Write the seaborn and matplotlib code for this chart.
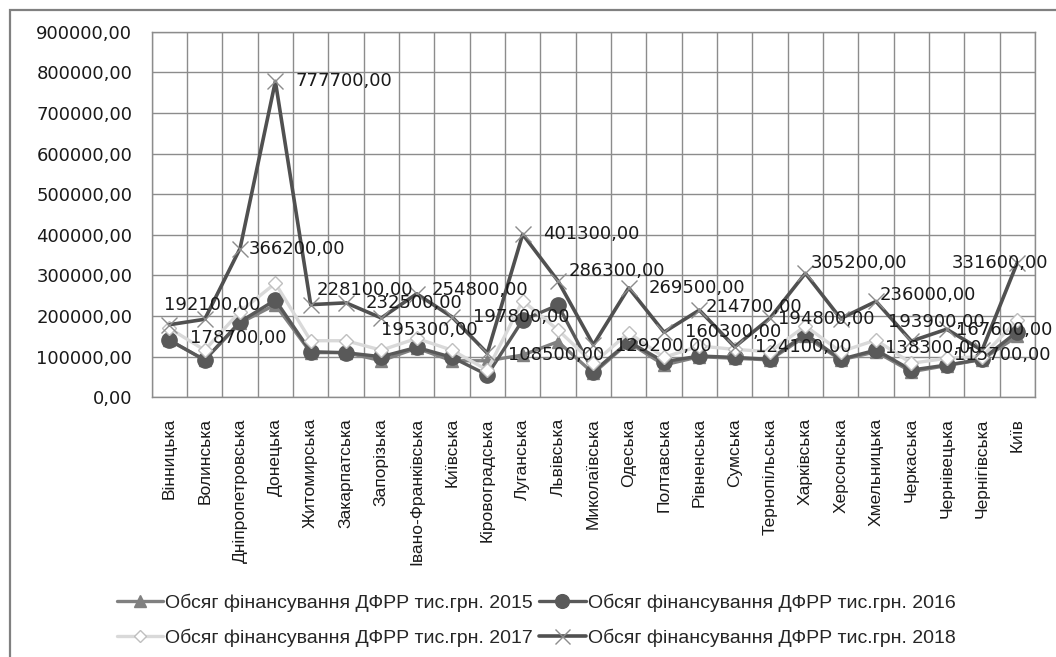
import matplotlib
matplotlib.use("Agg")
import matplotlib.pyplot as plt
from matplotlib.patches import Rectangle
from matplotlib.lines import Line2D
import numpy as np
import pandas as pd
import seaborn as sns

regions = ["Вінницька", "Волинська", "Дніпропетровська", "Донецька", "Житомирська",
           "Закарпатська", "Запорізька", "Івано-Франківська", "Київська", "Кіровоградська",
           "Луганська", "Львівська", "Миколаївська", "Одеська", "Полтавська", "Рівненська",
           "Сумська", "Тернопільська", "Харківська", "Херсонська", "Хмельницька", "Черкаська",
           "Чернівецька", "Чернігівська", "Київ"]

v2015 = [140000, 92000, 183000, 228000, 110000, 110000, 90000, 121000, 90000, 90000,
         104000, 137000, 59000, 135000, 79500, 100000, 96000, 92000, 150000, 92000,
         112000, 63000, 78000, 93000, 150000]
v2016 = [141000, 91800, 186000, 239500, 112300, 109800, 100000, 123000, 98400, 55000,
         190000, 227000, 63000, 137000, 87600, 101700, 98400, 93500, 155800, 93500,
         116400, 67200, 79500, 93500, 161500]
v2017 = [170000, 116000, 211000, 280600, 139300, 139300, 116000, 145000, 116000, 67000,
         237800, 165700, 83700, 159000, 98400, 126300, 118000, 112300, 175500, 112300,
         141000, 83700, 96000, 100000, 190000]
v2018 = [178700, 192100, 366200, 777700, 228100, 232500, 195300, 254800, 197800, 108500,
         401300, 286300, 129200, 269500, 160300, 214700, 124100, 194800, 305200, 193900,
         236000, 138300, 167600, 115700, 331600]

series_names = ["Обсяг фінансування ДФРР тис.грн. 2015",
                "Обсяг фінансування ДФРР тис.грн. 2016",
                "Обсяг фінансування ДФРР тис.грн. 2017",
                "Обсяг фінансування ДФРР тис.грн. 2018"]

# label placement (pixels: dx to left edge, dy downward) mimicking the original
label_dx = [21, -41, 9, 20, 6, 20, 0, 15, 21, 21, 20, 11, 22, 20, 21, 6, 20, 8, 5, 47, 4, -26, 9, -28, -66]
label_dy = [13, -14, 0, 0, -15, 0, 12, -4, 0, 2, 0, -10, 1, 0, 0, -3, 0, 1, -10, 3, -6, 7, 1, 5, 0]

sns.set_style("white")
plt.rcParams["font.family"] = ["DejaVu Sans"]

W, H = 1056, 657
fig = plt.figure(figsize=(W / 100, H / 100), dpi=100)
left, right, top, bottom = 151.7, 1035.0, 31.7, 397.3
ax = fig.add_axes([left / W, 1 - bottom / H, (right - left) / W, (bottom - top) / H])

x = np.arange(len(regions))
styles = [
    dict(color="#808080", marker="^", markersize=9, markerfacecolor="#808080",
         markeredgecolor="#808080", lw=2.4),
    dict(color="#595959", marker="o", markersize=11, markerfacecolor="#595959",
         markeredgecolor="#595959", lw=2.4),
    dict(color="#d9d9d9", marker="D", markersize=7, markerfacecolor="white",
         markeredgecolor="#bfbfbf", markeredgewidth=1.0, lw=2.4),
    dict(color="#505050", marker="x", markersize=12, markeredgecolor="#8c8c8c",
         markeredgewidth=1.0, lw=2.6),
]
handles = []
for vals, name, st in zip([v2015, v2016, v2017, v2018], series_names, styles):
    df = pd.DataFrame({"x": x, "y": vals})
    sns.lineplot(data=df, x="x", y="y", ax=ax, color=st["color"], linewidth=st["lw"],
                 marker=st["marker"], markersize=st["markersize"],
                 markerfacecolor=st.get("markerfacecolor", "none"),
                 markeredgecolor=st["markeredgecolor"],
                 markeredgewidth=st.get("markeredgewidth", 1.0),
                 legend=False, zorder=3)
    handles.append(Line2D([0], [0], color=st["color"], lw=st["lw"], marker=st["marker"],
                          markersize=st["markersize"] * 0.9,
                          markerfacecolor=st.get("markerfacecolor", "none"),
                          markeredgecolor=st["markeredgecolor"],
                          markeredgewidth=st.get("markeredgewidth", 1.0), label=name))

def fmt(v):
    return f"{v:.2f}".replace(".", ",")

for i, v in enumerate(v2018):
    ax.annotate(fmt(v), xy=(x[i], v), xytext=(label_dx[i], -label_dy[i]),
                textcoords="offset pixels", ha="left", va="center",
                fontsize=13, color="#1a1a1a", zorder=5)

ax.set_xlim(-0.5, len(regions) - 0.5)
ax.set_ylim(0, 900000)
ax.set_yticks(np.arange(0, 900001, 100000))
ax.set_yticklabels([fmt(v) for v in np.arange(0, 900001, 100000)], fontsize=13, color="#1a1a1a")
ax.set_xticks(x)
ax.set_xticklabels(regions, rotation=90, fontsize=12.5, family=["Liberation Sans", "DejaVu Sans"],
                   color="#1a1a1a", va="top", ha="center")
ax.set_xticks(np.arange(-0.5, len(regions), 1), minor=True)
ax.tick_params(axis="both", which="both", length=0)
ax.tick_params(axis="y", pad=14)
ax.tick_params(axis="x", pad=15)
ax.grid(True, which="major", axis="y", color="#8c8c8c", lw=1.0)
ax.grid(True, which="minor", axis="x", color="#8c8c8c", lw=1.0)
ax.grid(False, which="major", axis="x")
ax.set_axisbelow(True)
for sp in ax.spines.values():
    sp.set_color("#8c8c8c")
    sp.set_linewidth(1.0)
ax.set_xlabel("")
ax.set_ylabel("")

order = [0, 2, 1, 3]
fig.legend([handles[i] for i in order], [series_names[i] for i in order],
           loc="center", bbox_to_anchor=(536 / W, 1 - 620 / H), ncol=2, frameon=False,
           prop={"family": ["Liberation Sans", "DejaVu Sans"], "size": 14},
           handlelength=2.4, handletextpad=0.1, columnspacing=0.3, labelspacing=0.85)

fig.patches.append(Rectangle((10 / W, -0.1), 1.2, 1 - 10 / H + 0.1, transform=fig.transFigure,
                             fill=False, edgecolor="#808080", lw=1.6, zorder=0))

fig.savefig("out.png", dpi=100)
